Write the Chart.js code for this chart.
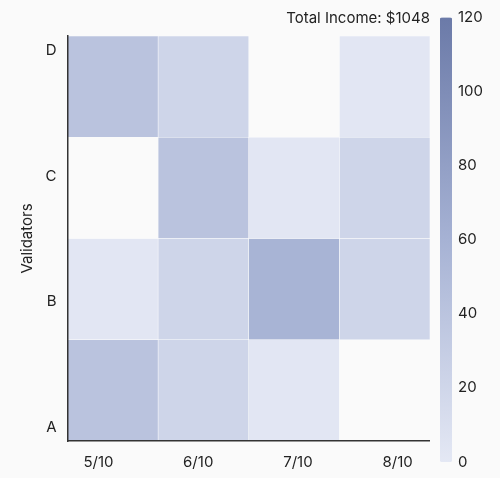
<!DOCTYPE html>
<html>
<head>
<meta charset="utf-8">
<script src="https://cdn.jsdelivr.net/npm/chart.js@4.4.0/dist/chart.umd.min.js"></script>
<style>
  html, body { margin: 0; padding: 0; background: #fafafa; }
  #wrap { position: relative; width: 500px; height: 478px; }
  #main { position: absolute; left: 0; top: 0; width: 430px; height: 478px; }
  #legend { position: absolute; left: 440px; top: 0; width: 60px; height: 478px; }
</style>
</head>
<body>
<div id="wrap">
  <div id="main"><canvas id="heatChart"></canvas></div>
  <div id="legend"><canvas id="scaleChart"></canvas></div>
</div>
<script>
// Данные
const dates = ['5/10', '6/10', '7/10', '8/10'];
const validators = ['A', 'B', 'C', 'D'];
// значения по строкам (валидатор) и столбцам (дата), null = пусто
const valuesA = [41, 21, 2, null];
const valuesB = [2, 21, 58, 21];
const valuesC = [null, 41, 2, 21];
const valuesD = [41, 21, null, 2];
const colorRange = [0, 120];
const colorTicks = [0, 20, 40, 60, 80, 100, 120];

const rows = [valuesA, valuesB, valuesC, valuesD];

// цветовая шкала
const stops = [
    [0, [228, 232, 244]],
    [60, [166, 178, 212]],
    [120, [107, 122, 168]]
];
function colorFor(v) {
    if (v == null) return 'rgba(0,0,0,0)';
    for (let i = 0; i < stops.length - 1; i++) {
        const [v0, c0] = stops[i];
        const [v1, c1] = stops[i + 1];
        if (v <= v1) {
            const t = Math.max(0, (v - v0) / (v1 - v0));
            const c = c0.map((x, k) => Math.round(x + (c1[k] - x) * t));
            return `rgb(${c[0]}, ${c[1]}, ${c[2]})`;
        }
    }
    const c = stops[stops.length - 1][1];
    return `rgb(${c[0]}, ${c[1]}, ${c[2]})`;
}

const font = { family: 'Inter, "Noto Sans", sans-serif', size: 15, weight: 'normal' };
const textColor = '#222';

const datasets = validators.map((name, i) => ({
    label: name,
    data: rows[i].map(v => v == null ? null : [i, i + 1]),
    backgroundColor: rows[i].map(colorFor),
    borderColor: 'rgba(255, 255, 255, 0.45)',
    borderWidth: 0.6,
    borderSkipped: false,
    grouped: false,
    categoryPercentage: 1,
    barPercentage: 1,
    xAxisID: 'x',
    yAxisID: 'y'
}));

new Chart(document.getElementById('heatChart'), {
    type: 'bar',
    data: { labels: dates, datasets: datasets },
    options: {
        responsive: true,
        maintainAspectRatio: false,
        animation: false,
        layout: { padding: 0 },
        plugins: {
            legend: { display: false },
            tooltip: { enabled: false },
            title: {
                display: true,
                text: 'Total Income: $1048',
                align: 'end',
                color: textColor,
                font: font,
                padding: { top: 9, bottom: 9 }
            }
        },
        scales: {
            x: {
                type: 'category',
                offset: true,
                grid: { display: false, drawTicks: false },
                ticks: { display: false },
                border: { display: true, color: '#333', width: 1.5, z: 1 }
            },
            xLabels: {
                type: 'linear',
                position: 'bottom',
                weight: 1,
                offset: false,
                min: -0.311,
                max: 3.325,
                afterBuildTicks: s => { s.ticks = dates.map((d, i) => ({ value: i })); },
                afterFit: s => { s.height = 37; },
                grid: { display: false, drawTicks: false },
                border: { display: false },
                ticks: {
                    color: textColor,
                    font: font,
                    padding: 12,
                    maxRotation: 0,
                    autoSkip: false,
                    callback: v => dates[v]
                }
            },
            y: {
                type: 'linear',
                min: 0,
                max: validators.length,
                grid: { display: false, drawTicks: false },
                ticks: { display: false },
                border: { display: true, color: '#333', width: 1.5, z: 1 }
            },
            yLabels: {
                type: 'linear',
                position: 'left',
                weight: 1,
                offset: false,
                min: -0.105,
                max: 3.114,
                afterBuildTicks: s => { s.ticks = validators.map((d, i) => ({ value: i })); },
                afterFit: s => { s.width = 67.5; },
                grid: { display: false, drawTicks: false },
                border: { display: false },
                ticks: {
                    color: textColor,
                    font: font,
                    padding: 11,
                    autoSkip: false,
                    callback: v => validators[v]
                },
                title: {
                    display: true,
                    text: 'Validators',
                    color: textColor,
                    font: font,
                    padding: { top: 18, bottom: 0 }
                }
            }
        }
    }
});

// Цветовая шкала справа
new Chart(document.getElementById('scaleChart'), {
    type: 'bar',
    data: {
        labels: [''],
        datasets: [{
            data: [colorRange],
            backgroundColor: ctx => {
                const area = ctx.chart.chartArea;
                if (!area) return colorFor(colorRange[1]);
                const g = ctx.chart.ctx.createLinearGradient(0, area.bottom, 0, area.top);
                stops.forEach(([v]) => g.addColorStop((v - colorRange[0]) / (colorRange[1] - colorRange[0]), colorFor(v)));
                return g;
            },
            borderRadius: 3,
            borderSkipped: false,
            categoryPercentage: 1,
            barPercentage: 1
        }]
    },
    options: {
        responsive: true,
        maintainAspectRatio: false,
        animation: false,
        layout: { padding: { top: 17.5, bottom: 16, left: 0, right: 0 } },
        plugins: { legend: { display: false }, tooltip: { enabled: false } },
        scales: {
            x: { display: false, offset: true },
            y: {
                position: 'right',
                min: colorRange[0],
                max: colorRange[1],
                afterBuildTicks: s => { s.ticks = colorTicks.map(v => ({ value: v })); },
                afterFit: s => { s.width = 48; },
                grid: { display: false, drawTicks: false },
                border: { display: false },
                ticks: { color: textColor, font: font, padding: 6 }
            }
        }
    }
});
</script>
</body>
</html>
